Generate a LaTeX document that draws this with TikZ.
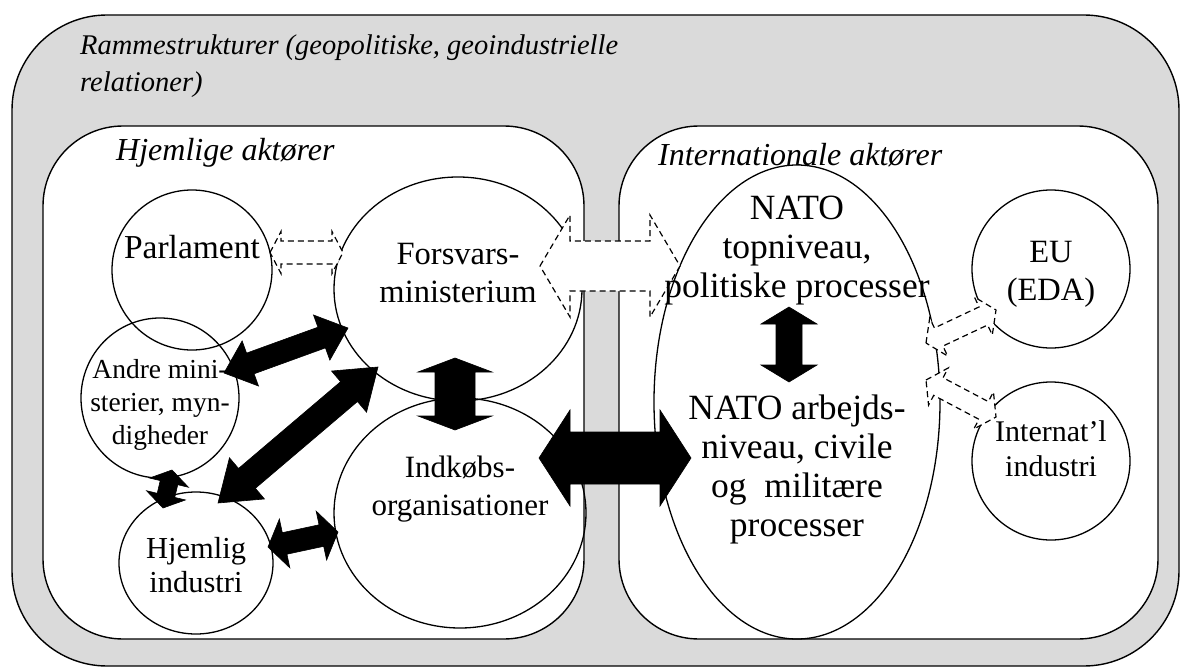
\documentclass[tikz,border=0pt]{standalone}
\usepackage{fontspec}
\setmainfont{Liberation Serif}
\usetikzlibrary{calc,shapes.geometric}
\definecolor{framegrey}{RGB}{218,218,218}
\tikzset{
  frame/.style={draw=black, line width=1.4pt},
  titletext/.style={inner sep=0pt, anchor=base west, font=\fontsize{28.5}{34}\selectfont\itshape},
  subtitle/.style={titletext, font=\fontsize{32}{38}\selectfont\itshape},
  actor/.style={draw=black, line width=1.3pt, ellipse, inner sep=0pt},
  lbl/.style={inner sep=0pt, align=center, font=\fontsize{32.5}{38}\selectfont},
  smalllbl/.style={inner sep=0pt, align=center, font=\fontsize{27.5}{33}\selectfont},
  natolbl/.style={inner sep=0pt, align=center, font=\fontsize{35.5}{39}\selectfont},
  solidarrow/.style={fill=black, draw=black, line width=0.6pt, line join=miter},
  hollowarrow/.style={fill=white, draw=black, line width=1.2pt, dash pattern=on 6pt off 4pt},
}
% #1 style, #2 from, #3 to, #4 body half width, #5 head half width, #6 head length
\newcommand\blockarrow[6]{%
  \draw[#1] (#2)
    -- ($(#2)!#6!(#3)!#5!90:(#3)$)
    -- ($(#2)!#6!(#3)!#4!90:(#3)$)
    -- ($(#3)!#6!(#2)!#4!-90:(#2)$)
    -- ($(#3)!#6!(#2)!#5!-90:(#2)$)
    -- (#3)
    -- ($(#3)!#6!(#2)!#5!90:(#2)$)
    -- ($(#3)!#6!(#2)!#4!90:(#2)$)
    -- ($(#2)!#6!(#3)!#4!-90:(#3)$)
    -- ($(#2)!#6!(#3)!#5!-90:(#3)$)
    -- cycle;}
\begin{document}
\begin{tikzpicture}[x=1pt,y=-1pt]
\useasboundingbox (0,0) rectangle (1181,669);
% frames
\draw[frame, fill=framegrey, rounded corners=95pt] (12,15) rectangle (1179,666);
\draw[frame, fill=white, rounded corners=80pt] (43,126) rectangle (584,639);
\draw[frame, fill=white, rounded corners=80pt] (619,126) rectangle (1158,639);
% titles
\node[titletext] (t1) at (80,55) {Rammestrukturer (geopolitiske, geoindustrielle};
\node[titletext] (t2) at (80,92) {relationer)};
\node[subtitle] (thj) at (116,160) {Hjemlige aktører};
\node[subtitle] (tin) at (658,165) {Internationale aktører};
% actors
\node[actor, minimum width=160pt, minimum height=160pt] (parl) at (192,270) {};
\node[actor, minimum width=248pt, minimum height=224pt] (fm) at (458,289) {};
\node[actor, minimum width=158pt, minimum height=160pt] (andre) at (160,398) {};
\node[actor, minimum width=154pt, minimum height=142pt] (hind) at (196,563) {};
\node[actor, minimum width=252pt, minimum height=230pt] (ind) at (460,513) {};
\node[actor, minimum width=286pt, minimum height=474pt] (nato) at (797,402) {};
\node[actor, minimum width=158pt, minimum height=158pt] (eu) at (1051,269) {};
\node[actor, minimum width=158pt, minimum height=158pt] (iind) at (1051,461) {};
% arrow end points
\coordinate (pa1) at (270,252.5);  \coordinate (pa2) at (343,252.5);
\coordinate (fn1) at (540,266);    \coordinate (fn2) at (680,266);
\coordinate (ne1) at (926,343);    \coordinate (ne2) at (996,310);
\coordinate (ni1) at (926,380);    \coordinate (ni2) at (996,417);
\coordinate (af1) at (224,373);    \coordinate (af2) at (348,328);
\coordinate (hf1) at (218,503);    \coordinate (hf2) at (378,367);
\coordinate (ah1) at (172,470);    \coordinate (ah2) at (163,508);
\coordinate (hi1) at (268,547);    \coordinate (hi2) at (338,532);
\coordinate (fi1) at (455,358);    \coordinate (fi2) at (455,430);
\coordinate (in1) at (539,458);    \coordinate (in2) at (691,458);
\coordinate (nn1) at (789,307);    \coordinate (nn2) at (789,382);
% hollow dashed arrows
\blockarrow{hollowarrow}{pa1}{pa2}{11.5pt}{21pt}{11pt}
\blockarrow{hollowarrow}{fn1}{fn2}{25pt}{51pt}{30pt}
\blockarrow{hollowarrow}{ne1}{ne2}{10pt}{21pt}{14pt}
\blockarrow{hollowarrow}{ni1}{ni2}{10pt}{21pt}{14pt}
% solid arrows
\blockarrow{solidarrow}{af1}{af2}{11pt}{24pt}{28pt}
\blockarrow{solidarrow}{hf1}{hf2}{13pt}{27pt}{38pt}
\blockarrow{solidarrow}{ah1}{ah2}{9pt}{20pt}{13pt}
\blockarrow{solidarrow}{hi1}{hi2}{11pt}{25pt}{17pt}
\blockarrow{solidarrow}{fi1}{fi2}{20pt}{37pt}{14pt}
\blockarrow{solidarrow}{in1}{in2}{26pt}{48pt}{31pt}
\blockarrow{solidarrow}{nn1}{nn2}{13pt}{28pt}{17pt}
% labels
\node[lbl, font=\fontsize{33.5}{38}\selectfont] (lparl) at (192,247) {Parlament};
\node[lbl] (lfm) at (458,273) {Forsvars-\\ministerium};
\node[smalllbl] (landre) at (160,405) {Andre mini-\\sterier, myn-\\digheder};
\node[lbl, font=\fontsize{30.5}{34}\selectfont] (lhind) at (196,565) {Hjemlig\\industri};
\node[lbl, font=\fontsize{31}{38}\selectfont] (lind) at (460,489) {Indkøbs-\\organisationer};
\node[natolbl] (lnato1) at (797,251) {NATO\\topniveau,\\politiske processer};
\node[natolbl] (lnato2) at (797,469) {NATO arbejds-\\niveau, civile\\og~ militære\\processer};
\node[lbl] (leu) at (1051,274) {EU\\(EDA)};
\node[lbl, font=\fontsize{30}{35}\selectfont] (liind) at (1051,449) {Internat'l\\industri};
\end{tikzpicture}
\end{document}
